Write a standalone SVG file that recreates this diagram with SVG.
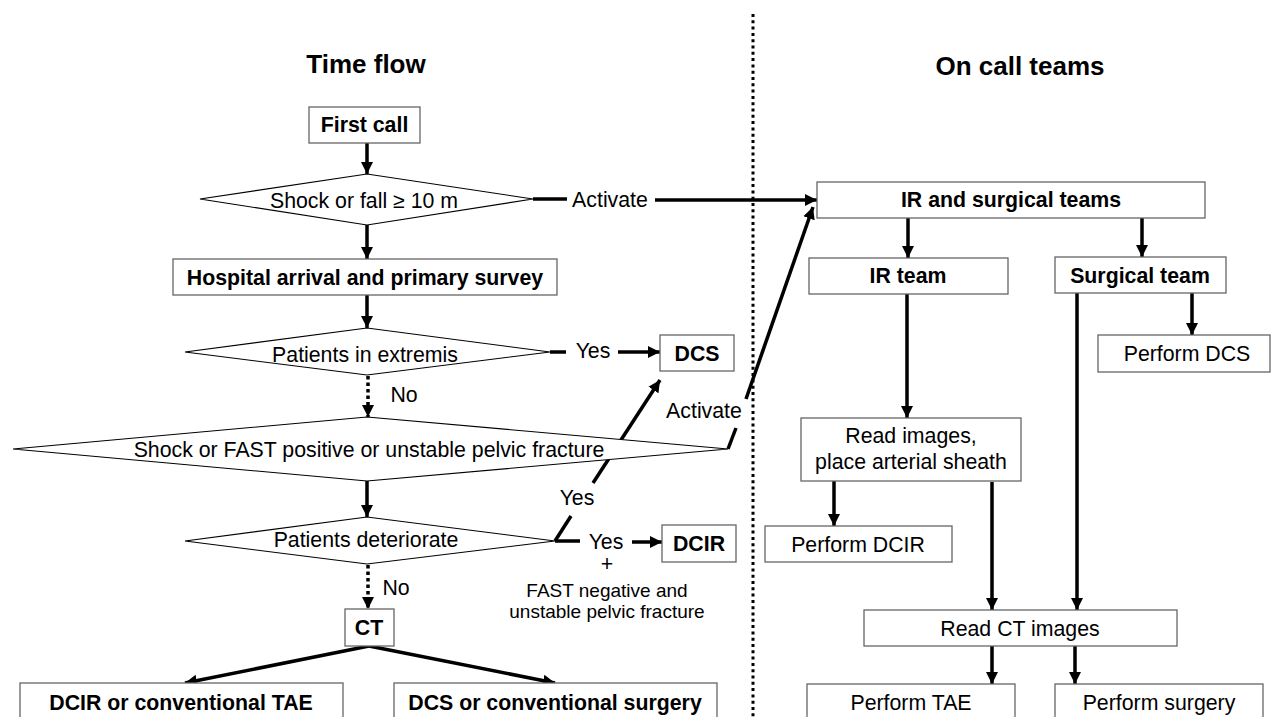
<svg xmlns="http://www.w3.org/2000/svg" width="1274" height="717" viewBox="0 0 1274 717">
<style>
text{font-family:"Liberation Sans",Arial,sans-serif;fill:#000;}
.t{font-size:26px;font-weight:bold;text-anchor:middle;}
.b{font-size:21.3px;font-weight:bold;text-anchor:middle;}
.r{font-size:21.3px;text-anchor:middle;}
.s{font-size:19px;text-anchor:middle;}
.box{fill:#fff;stroke:#666;stroke-width:1.3;}
.dia{fill:#fff;stroke:#000;stroke-width:1.1;}
.c{fill:none;stroke:#000;stroke-width:3.5;}
.a{marker-end:url(#ah);}
.d{stroke-dasharray:3.5 3;}
</style>
<defs>
<marker id="ah" markerUnits="userSpaceOnUse" markerWidth="13" markerHeight="13" refX="12" refY="6.5" orient="auto">
<path d="M0,0.5 L12,6.5 L0,12.5 z" fill="#000"/>
</marker>
</defs>
<rect width="1274" height="717" fill="#fff"/>
<line x1="753" y1="14" x2="753" y2="717" stroke="#000" stroke-width="3" stroke-dasharray="3 3.3"/>
<text class="t" x="366" y="73">Time flow</text>
<text class="t" x="1020" y="75">On call teams</text>

<g id="connectors">
<line class="c a" x1="367" y1="143" x2="367" y2="174"/>
<line class="c a" x1="367" y1="225" x2="367" y2="259"/>
<line class="c" x1="533" y1="199" x2="567" y2="199"/>
<line class="c a" x1="655" y1="200" x2="817" y2="200"/>
<line class="c a" x1="367" y1="295" x2="367" y2="328"/>
<line class="c" x1="550" y1="352" x2="566" y2="352"/>
<line class="c a" x1="618" y1="352" x2="660" y2="352"/>
<line class="c a d" x1="368" y1="376" x2="368" y2="417"/>
<line class="c a" x1="367" y1="481" x2="367" y2="517"/>
<line class="c" x1="728" y1="449" x2="736" y2="428"/>
<line class="c a" x1="746" y1="399" x2="813" y2="207"/>
<line class="c" x1="555" y1="541" x2="571" y2="516"/>
<line class="c a" x1="593" y1="483" x2="660" y2="380"/>
<line class="c" x1="555" y1="541" x2="580" y2="541"/>
<line class="c a" x1="632" y1="542" x2="662" y2="542"/>
<line class="c a d" x1="368" y1="565" x2="368" y2="609"/>
<line class="c a" x1="369" y1="646" x2="185" y2="683"/>
<line class="c a" x1="369" y1="646" x2="555" y2="683"/>
<line class="c a" x1="908" y1="218" x2="908" y2="258"/>
<line class="c a" x1="1142" y1="218" x2="1142" y2="257"/>
<line class="c a" x1="1192" y1="293" x2="1192" y2="335"/>
<line class="c a" x1="907" y1="294" x2="907" y2="418"/>
<line class="c a" x1="1077" y1="293" x2="1077" y2="610"/>
<line class="c a" x1="834" y1="481" x2="834" y2="526"/>
<line class="c a" x1="992" y1="482" x2="992" y2="610"/>
<line class="c a" x1="992" y1="646" x2="992" y2="684"/>
<line class="c a" x1="1075" y1="646" x2="1075" y2="684"/>
<text class="r" x="610" y="207">Activate</text>
<text class="r" x="593" y="358">Yes</text>
<text class="r" x="404" y="402">No</text>
<text class="r" x="704" y="418">Activate</text>
<text class="r" x="577" y="505">Yes</text>
<text class="r" x="606" y="549">Yes</text>
<text class="r" x="607" y="571">+</text>
<text class="s" x="607" y="597">FAST negative and</text>
<text class="s" x="607" y="618">unstable pelvic fracture</text>
<text class="r" x="396" y="595">No</text>
</g>

<g id="first-call"><rect class="box" x="309" y="107" width="111" height="36"/><text class="b" x="364.5" y="132">First call</text></g>
<g id="shock-fall"><polygon class="dia" points="200,199 367,174 533,199 367,225"/><text class="r" x="364" y="208">Shock or fall ≥ 10 m</text></g>
<g id="hospital"><rect class="box" x="173" y="259" width="384" height="36"/><text class="b" x="365" y="285">Hospital arrival and primary survey</text></g>
<g id="extremis"><polygon class="dia" points="185,352 367,328 550,352 367,375"/><text class="r" x="365" y="362">Patients in extremis</text></g>
<g id="dcs"><rect class="box" x="660" y="335" width="74" height="36"/><text class="b" x="697" y="361">DCS</text></g>
<g id="shock-fast"><polygon class="dia" points="13,449 367,417 728,449 367,481"/><text class="r" x="369" y="457">Shock or FAST positive or unstable pelvic fracture</text></g>
<g id="deteriorate"><polygon class="dia" points="185,541 367,517 555,541 367,564"/><text class="r" x="366" y="547">Patients deteriorate</text></g>
<g id="dcir"><rect class="box" x="662" y="525" width="74" height="37"/><text class="b" x="699" y="551">DCIR</text></g>
<g id="ct"><rect class="box" x="345" y="609" width="49" height="37"/><text class="b" x="369" y="635">CT</text></g>
<g id="dcir-tae"><rect class="box" x="20" y="683" width="323" height="50"/><text class="b" x="181" y="710">DCIR or conventional TAE</text></g>
<g id="dcs-surgery"><rect class="box" x="394" y="683" width="323" height="50"/><text class="b" x="555" y="710">DCS or conventional surgery</text></g>

<g id="ir-surgical"><rect class="box" x="817" y="182" width="388" height="36"/><text class="b" x="1011" y="207">IR and surgical teams</text></g>
<g id="ir-team"><rect class="box" x="809" y="258" width="199" height="36"/><text class="b" x="908" y="283">IR team</text></g>
<g id="surgical-team"><rect class="box" x="1055" y="257" width="171" height="36"/><text class="b" x="1140" y="283">Surgical team</text></g>
<g id="perform-dcs"><rect class="box" x="1098" y="335" width="172" height="37"/><text class="r" x="1187" y="361">Perform DCS</text></g>
<g id="read-images"><rect class="box" x="801" y="418" width="220" height="63"/><text class="r" x="911" y="443">Read images,</text><text class="r" x="911" y="469">place arterial sheath</text></g>
<g id="perform-dcir"><rect class="box" x="765" y="526" width="187" height="36"/><text class="r" x="858" y="552">Perform DCIR</text></g>
<g id="read-ct"><rect class="box" x="864" y="610" width="313" height="36"/><text class="r" x="1020" y="636">Read CT images</text></g>
<g id="perform-tae"><rect class="box" x="807" y="684" width="208" height="50"/><text class="r" x="911" y="710">Perform TAE</text></g>
<g id="perform-surgery"><rect class="box" x="1055" y="684" width="208" height="50"/><text class="r" x="1159" y="710">Perform surgery</text></g>
</svg>
